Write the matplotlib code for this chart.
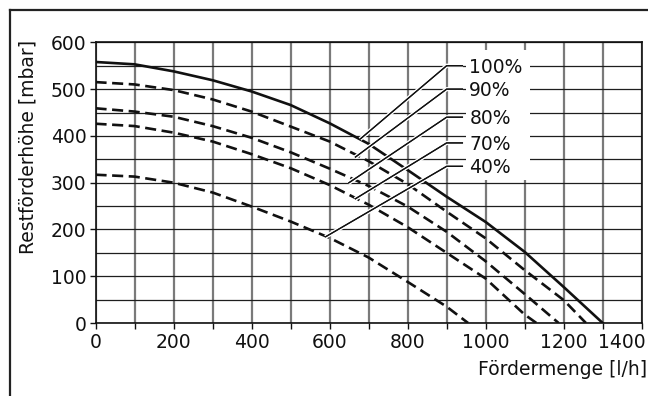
import numpy as np
import matplotlib
matplotlib.use('Agg')
import matplotlib.pyplot as plt
import matplotlib.patheffects as pe
from matplotlib.patches import Rectangle

# Kennlinien
x100 = [0, 100, 200, 300, 400, 500, 600, 700, 800, 900, 1000, 1100, 1200, 1300]
y100 = [558, 553, 538, 519, 495, 466, 427, 383, 327, 270, 216, 152, 77, 0]
x90 = [0, 100, 200, 300, 400, 500, 600, 700, 800, 900, 1000, 1100, 1200, 1257]
y90 = [515, 510, 498, 478, 452, 420, 388, 346, 297, 238, 181, 113, 49, 0]
x80 = [0, 100, 200, 300, 400, 500, 600, 700, 800, 900, 1000, 1100, 1187]
y80 = [459, 452, 441, 421, 396, 365, 330, 293, 249, 195, 132, 62, 0]
x70 = [0, 100, 200, 300, 400, 500, 600, 700, 800, 900, 1000, 1100, 1130]
y70 = [426, 421, 407, 388, 361, 331, 295, 253, 205, 150, 95, 18, 0]
x40 = [0, 100, 200, 300, 400, 500, 600, 700, 800, 900, 955]
y40 = [317, 313, 300, 279, 249, 217, 182, 140, 88, 35, 0]

labels = ['100%', '90%', '80%', '70%', '40%']
label_y = [550, 500, 440, 385, 335]
# Endpunkte der Hinweislinien auf den Kurven
lead_x = [678, 665, 648, 665, 589]
lead_y = [393, 354, 299, 265, 184]

xticks = [0, 100, 200, 300, 400, 500, 600, 700, 800, 900, 1000, 1100, 1200, 1300, 1400]
xticklabels = ['0', '', '200', '', '400', '', '600', '', '800', '', '1000', '', '1200', '', '']
yticks = [0, 100, 200, 300, 400, 500, 600]

plt.rcParams['font.family'] = 'DejaVu Sans'

fig = plt.figure(figsize=(6.48, 3.96), dpi=100)
ax = fig.add_axes([0.1474, 0.1843, 0.8429, 0.7088])

ax.set_xlim(0, 1400)
ax.set_ylim(0, 600)

# Gitter
ax.set_xticks(xticks)
ax.set_xticklabels(xticklabels)
ax.set_yticks(yticks)
ax.set_yticks(np.arange(50, 600, 100), minor=True)
ax.xaxis.grid(True, which='major', color='#7a7a7a', lw=1.6, zorder=1)
ax.yaxis.grid(True, which='both', color='#1e1e1e', lw=0.9, zorder=1)
ax.set_axisbelow(True)
ax.tick_params(axis='both', which='major', direction='out', length=4, width=1,
               labelsize=13.5, colors='#111111')
ax.tick_params(axis='x', pad=3.5)
ax.tick_params(axis='y', pad=2.5)
ax.tick_params(axis='y', which='minor', length=0)
for s in ax.spines.values():
    s.set_color('#111111')
    s.set_linewidth(1.2)

# 1400 rechtsbuendig wie im Original
ax.annotate('1400', xy=(1400, 0), xytext=(2.5, -7.5), textcoords='offset points',
            ha='right', va='top', fontsize=13.5, color='#111111', annotation_clip=False)

dash = (0, (4.2, 2.1))
ax.plot(x100, y100, color='#111111', lw=1.9, zorder=3)
ax.plot(x90, y90, color='#111111', lw=1.9, ls=dash, zorder=3)
ax.plot(x80, y80, color='#111111', lw=1.9, ls=dash, zorder=3)
ax.plot(x70, y70, color='#111111', lw=1.9, ls=dash, zorder=3)
ax.plot(x40, y40, color='#111111', lw=1.9, ls=dash, zorder=3)

# weisser Hintergrund fuer die Beschriftung
ax.add_patch(Rectangle((949, 306), 165, 278, facecolor='white', edgecolor='none', zorder=2))

for i in range(len(labels)):
    ax.plot([lead_x[i], 900, 942], [lead_y[i], label_y[i], label_y[i]], color='#111111',
            lw=0.9, zorder=4, solid_capstyle='butt',
            path_effects=[pe.withStroke(linewidth=3, foreground='white'), pe.Normal()])
    ax.text(958, label_y[i] - 3, labels[i], fontsize=13.5, ha='left', va='center',
            color='#111111', zorder=5)

fig.text(0.043, 0.628, 'Restförderhöhe [mbar]', rotation=90, ha='center', va='center',
         fontsize=13.5, color='#111111')
fig.text(0.998, 0.066, 'Fördermenge [l/h]', ha='right', va='center',
         fontsize=13.5, color='#111111')

# Rahmen
fig.add_artist(plt.Line2D([9.5 / 648, 1], [1 - 9.5 / 396, 1 - 9.5 / 396],
                          transform=fig.transFigure, color='#222222', lw=1.6))
fig.add_artist(plt.Line2D([10 / 648, 10 / 648], [0, 1 - 9.5 / 396],
                          transform=fig.transFigure, color='#222222', lw=1.6))

fig.savefig('out.png', dpi=100)
